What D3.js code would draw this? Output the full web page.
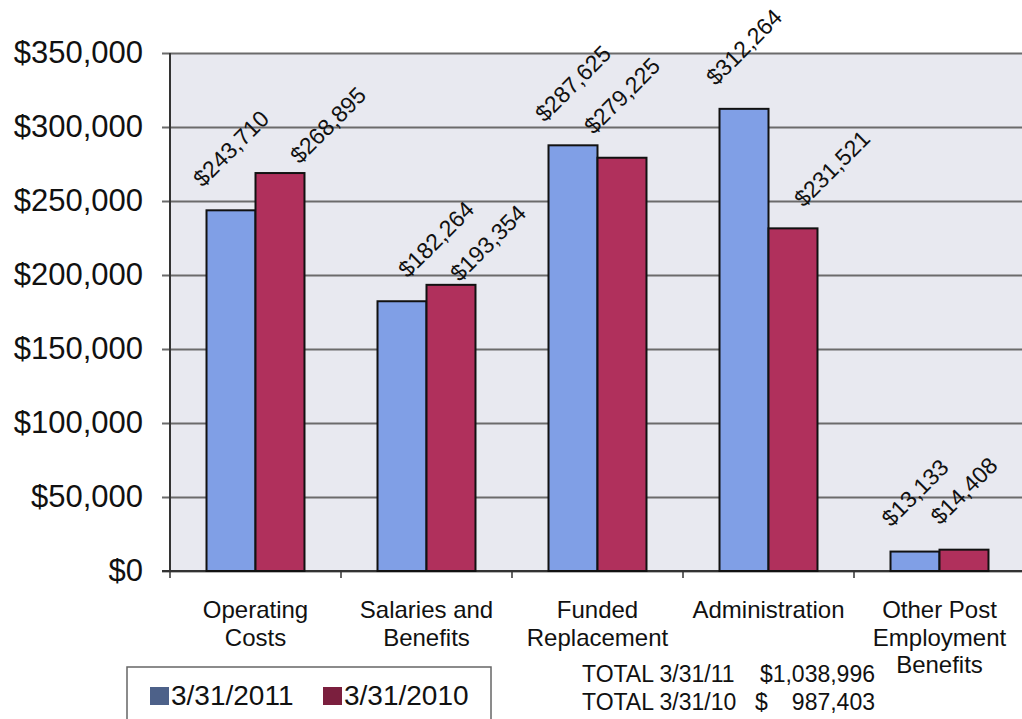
<!DOCTYPE html>
<html>
<head>
<meta charset="utf-8">
<script src="https://cdn.jsdelivr.net/npm/d3@7"></script>
<style>
  html, body { margin: 0; padding: 0; background: #fff; }
  svg { display: block; font-family: "Liberation Sans", Arial, sans-serif; }
</style>
</head>
<body>
<svg id="chart" width="1022" height="719"></svg>
<script>
// Expense categories (multi-line labels split on "\n")
const categories = [
  "Operating\nCosts",
  "Salaries and\nBenefits",
  "Funded\nReplacement",
  "Administration",
  "Other Post\nEmployment\nBenefits"
];
const seriesNames = ["3/31/2011", "3/31/2010"];
const values2011 = [243710, 182264, 287625, 312264, 13133];
const values2010 = [268895, 193354, 279225, 231521, 14408];
const yTicks = [0, 50000, 100000, 150000, 200000, 250000, 300000, 350000];
const totalLabels = ["TOTAL 3/31/11", "TOTAL 3/31/10"];

// Label nudges (px) so neighbouring rotated value labels don't collide
const labelNudge2011 = [[0, 0], [34, 0], [0, 0], [0, 0], [0, 3]];
const labelNudge2010 = [[48, 14], [37, 20], [0, 0], [39, 2], [0, 3]];

const svg = d3.select("#chart");
const plot = { left: 170, right: 1025, top: 53, bottom: 571 };
const fillBar = ["#809fe6", "#b0305c"];
const fillKey = ["#4d6189", "#7b1f3e"];

const x = d3.scaleBand()
  .domain(d3.range(categories.length))
  .range([plot.left, plot.right])
  .paddingInner(0.427)
  .paddingOuter(0.2135);
const xs = d3.scaleBand().domain([0, 1]).range([0, x.bandwidth()]);
const y = d3.scaleLinear().domain([0, 350000]).range([plot.bottom, plot.top]);

// plot background
svg.append("rect")
  .attr("x", plot.left).attr("y", plot.top)
  .attr("width", plot.right - plot.left).attr("height", plot.bottom - plot.top)
  .attr("fill", "#e8e9f0");

// y axis with gridlines
const yAxis = svg.append("g")
  .attr("transform", `translate(${plot.left},0)`)
  .call(d3.axisLeft(y).tickValues(yTicks)
    .tickSize(-(plot.right - plot.left))
    .tickPadding(27)
    .tickFormat(d => "$" + d3.format(",")(d)));
yAxis.select(".domain").remove();
yAxis.selectAll(".tick line")
  .attr("x1", -8)
  .attr("stroke", "#6b6b6b").attr("stroke-width", 1.8);
yAxis.selectAll(".tick text")
  .attr("font-size", 31).attr("fill", "#111");

// axis lines
svg.append("line")
  .attr("x1", plot.left).attr("x2", plot.left)
  .attr("y1", plot.top).attr("y2", plot.bottom)
  .attr("stroke", "#333").attr("stroke-width", 2);
svg.append("line")
  .attr("x1", plot.left - 8).attr("x2", plot.right)
  .attr("y1", plot.bottom).attr("y2", plot.bottom)
  .attr("stroke", "#333").attr("stroke-width", 2);

// category boundary ticks
svg.append("g").selectAll("line")
  .data(d3.range(categories.length + 1))
  .join("line")
  .attr("x1", i => plot.left + i * x.step())
  .attr("x2", i => plot.left + i * x.step())
  .attr("y1", plot.bottom).attr("y2", plot.bottom + 7)
  .attr("stroke", "#333").attr("stroke-width", 1.5);

// bars
const series = [values2011, values2010];
const nudges = [labelNudge2011, labelNudge2010];
const barData = [];
series.forEach((vals, s) => vals.forEach((v, i) => barData.push({ s, i, v })));

svg.append("g").selectAll("rect")
  .data(barData)
  .join("rect")
  .attr("x", d => x(d.i) + xs(d.s))
  .attr("y", d => y(d.v))
  .attr("width", xs.bandwidth())
  .attr("height", d => y(0) - y(d.v))
  .attr("fill", d => fillBar[d.s])
  .attr("stroke", "#111")
  .attr("stroke-width", 2);

// rotated value labels
svg.append("g").selectAll("text")
  .data(barData)
  .join("text")
  .attr("transform", d => {
    const cx = x(d.i) + xs(d.s) + xs.bandwidth() / 2 + nudges[d.s][d.i][0];
    const cy = y(d.v) - 62 + nudges[d.s][d.i][1];
    return `translate(${cx},${cy}) rotate(-45)`;
  })
  .attr("text-anchor", "middle")
  .attr("dy", "0.35em")
  .attr("font-size", 23)
  .attr("fill", "#111")
  .text(d => "$" + d3.format(",")(d.v));

// category labels
const catG = svg.append("g");
categories.forEach((c, i) => {
  const t = catG.append("text")
    .attr("x", x(i) + x.bandwidth() / 2)
    .attr("y", 618)
    .attr("text-anchor", "middle")
    .attr("font-size", 24)
    .attr("fill", "#111");
  c.split("\n").forEach((line, k) => {
    t.append("tspan")
      .attr("x", x(i) + x.bandwidth() / 2)
      .attr("dy", k === 0 ? 0 : 27.5)
      .text(line);
  });
});

// totals
const totals = [d3.sum(values2011), d3.sum(values2010)];
const fmt = d3.format(",");
totalLabels.forEach((lab, k) => {
  const yy = 682 + k * 28;
  svg.append("text").attr("x", 582).attr("y", yy)
    .attr("font-size", 23).attr("fill", "#111").text(lab);
  if (totals[k] >= 1000000) {
    svg.append("text").attr("x", 875).attr("y", yy).attr("text-anchor", "end")
      .attr("font-size", 23).attr("fill", "#111").text("$" + fmt(totals[k]));
  } else {
    svg.append("text").attr("x", 755).attr("y", yy)
      .attr("font-size", 23).attr("fill", "#111").text("$");
    svg.append("text").attr("x", 875).attr("y", yy).attr("text-anchor", "end")
      .attr("font-size", 23).attr("fill", "#111").text(fmt(totals[k]));
  }
});

// legend
const leg = svg.append("g");
leg.append("rect")
  .attr("x", 127).attr("y", 667)
  .attr("width", 364).attr("height", 70)
  .attr("fill", "#fff").attr("stroke", "#666").attr("stroke-width", 1.5);
const legX = [150, 323];
seriesNames.forEach((n, s) => {
  leg.append("rect")
    .attr("x", legX[s]).attr("y", 687)
    .attr("width", 19).attr("height", 18)
    .attr("fill", fillKey[s]);
  leg.append("text")
    .attr("x", legX[s] + 21).attr("y", 705)
    .attr("font-size", 28).attr("fill", "#111")
    .text(n);
});
</script>
</body>
</html>
